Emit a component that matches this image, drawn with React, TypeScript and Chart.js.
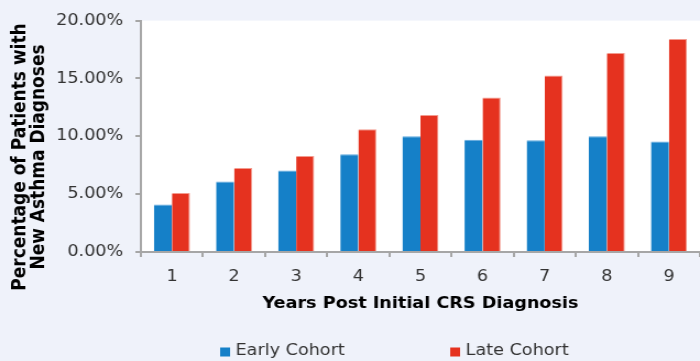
import React, { useEffect, useRef } from "react";
import { Chart, registerables } from "chart.js";

Chart.register(...registerables);

const years = ["1", "2", "3", "4", "5", "6", "7", "8", "9"];
const earlyCohort = [4.1, 6.1, 7.05, 8.45, 10.0, 9.7, 9.65, 10.0, 9.55];
const lateCohort = [5.1, 7.25, 8.3, 10.6, 11.85, 13.35, 15.25, 17.2, 18.4];
const yTitleLines = ["Percentage of Patients with", "New Asthma Diagnoses"];
const xTitle = "Years Post Initial CRS Diagnosis";
const seriesNames = ["Early Cohort", "Late Cohort"];

const BLUE = "#1580c8";
const RED = "#e5321f";
const BG = "#eff2fa";
const AXIS = "#a6a6a6";
const FONT = "'DejaVu Sans', Verdana, sans-serif";

// internal canvas is rendered narrower and displayed stretched (reference is horizontally stretched)
const IW = 636;
const IH = 361;

const decorPlugin = {
  id: "decor",
  beforeDraw(chart: any) {
    const { ctx, chartArea } = chart;
    ctx.save();
    ctx.fillStyle = BG;
    ctx.fillRect(0, 0, chart.width, chart.height);
    ctx.fillStyle = "#ffffff";
    ctx.fillRect(chartArea.left, chartArea.top, chartArea.right - chartArea.left, chartArea.bottom - chartArea.top);
    ctx.restore();
  },
  afterDraw(chart: any) {
    const { ctx, chartArea } = chart;
    ctx.save();
    // y title
    ctx.fillStyle = "#000";
    ctx.font = `bold 17px ${FONT}`;
    ctx.textAlign = "center";
    ctx.textBaseline = "alphabetic";
    const yc = 157;
    const xs = [23, 40];
    yTitleLines.forEach((line, i) => {
      ctx.save();
      ctx.translate(xs[i], yc);
      ctx.rotate(-Math.PI / 2);
      ctx.fillText(line, 0, 0);
      ctx.restore();
    });
    // x title
    ctx.font = `bold 16px ${FONT}`;
    ctx.fillText(xTitle, (chartArea.left + chartArea.right) / 2, 308);
    // legend
    ctx.font = `16px ${FONT}`;
    ctx.textAlign = "left";
    const items = [
      { x: 200, color: BLUE, text: seriesNames[0] },
      { x: 409, color: RED, text: seriesNames[1] },
    ];
    items.forEach((it) => {
      ctx.fillStyle = it.color;
      ctx.fillRect(it.x, 347.5, 9, 9);
      ctx.fillStyle = "#333";
      ctx.fillText(it.text, it.x + 14, 355);
    });
    ctx.restore();
  },
};

export default function App() {
  const ref = useRef<HTMLCanvasElement | null>(null);
  useEffect(() => {
    document.body.style.margin = "0";
    const canvas = ref.current!;
    const chart = new Chart(canvas, {
      type: "bar",
      data: {
        labels: years,
        datasets: [
          {
            label: seriesNames[0],
            data: earlyCohort,
            backgroundColor: BLUE,
            borderColor: "#5fa8de",
            borderWidth: { top: 1, right: 0, left: 0, bottom: 0 },
            borderSkipped: "bottom",
            categoryPercentage: 0.58,
            barPercentage: 1,
          },
          {
            label: seriesNames[1],
            data: lateCohort,
            backgroundColor: RED,
            borderColor: "#f39a8e",
            borderWidth: { top: 1, right: 1, left: 0, bottom: 0 },
            borderSkipped: "bottom",
            categoryPercentage: 0.58,
            barPercentage: 1,
          },
        ],
      },
      options: {
        responsive: false,
        animation: false,
        devicePixelRatio: 1,
        layout: { padding: { top: 15, right: 0, bottom: 0, left: 0 } },
        plugins: {
          legend: { display: false },
          tooltip: { enabled: false },
        },
        scales: {
          x: {
            type: "category",
            offset: true,
            grid: {
              display: true,
              offset: true,
              drawOnChartArea: false,
              drawTicks: true,
              tickLength: 5,
              lineWidth: 2,
              color: AXIS,
            },
            border: { display: true, color: AXIS, width: 2 },
            ticks: {
              color: "#333",
              font: { family: FONT, size: 16 },
              padding: 10,
              maxRotation: 0,
              autoSkip: false,
            },
            afterFit: (s: any) => {
              s.height = 109;
            },
          },
          y: {
            min: 0,
            max: 20,
            grid: {
              drawOnChartArea: false,
              drawTicks: true,
              tickLength: 5,
              lineWidth: 2,
              color: AXIS,
            },
            border: { display: true, color: AXIS, width: 2 },
            ticks: {
              stepSize: 5,
              padding: 11,
              color: "#333",
              font: { family: FONT, size: 16 },
              callback: (v: any) => `${Number(v).toFixed(2)}%`,
            },
            afterFit: (s: any) => {
              s.width = 128;
            },
          },
        },
      },
      plugins: [decorPlugin],
    });
    return () => chart.destroy();
  }, []);
  return (
    <div style={{ position: "absolute", left: 0, top: 0, width: 700, height: 361 }}>
      <canvas ref={ref} width={IW} height={IH} style={{ width: "700px", height: "361px", display: "block" }} />
    </div>
  );
}
